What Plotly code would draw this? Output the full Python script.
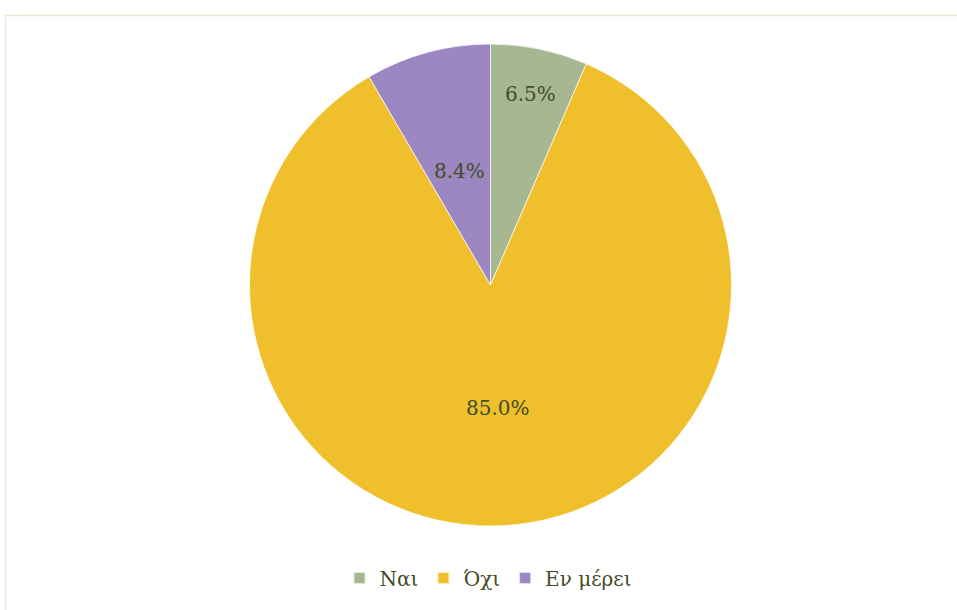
import math
import plotly.graph_objects as go

labels = ["Ναι", "Όχι", "Εν μέρει"]
values = [6.5, 85.0, 8.4]
colors = ["#a6b791", "#efbf2c", "#9d87c3"]
# radial placement of each percentage label, as a fraction of the radius (style)
label_radius = [0.81, 0.51, 0.49]

W, H = 957, 610
cx, cy, r = 490.5, 285, 241

dom_x = [(cx - r) / W, (cx + r) / W]
dom_y = [(H - cy - r) / H, (H - cy + r) / H]

fig = go.Figure(go.Pie(
    labels=labels,
    values=values,
    sort=False,
    direction="clockwise",
    rotation=0,
    marker=dict(colors=colors, line=dict(color="rgba(255,255,255,0.7)", width=1)),
    textinfo="none",
    domain=dict(x=dom_x, y=dom_y),
    hoverinfo="none",
))

# percentage labels placed at the angular middle of each slice
total = sum(values)
annotations = []
cum = 0.0
for v, fr in zip(values, label_radius):
    mid = (cum + v / 2) / total * 2 * math.pi
    cum += v
    px = cx + fr * r * math.sin(mid)
    py = cy - fr * r * math.cos(mid)
    annotations.append(dict(
        x=px / W, y=(H - py) / H, xref="paper", yref="paper",
        text=f"{v:.1f}%", showarrow=False,
        font=dict(family="DejaVu Serif", size=20, color="#434d26"),
        xanchor="center", yanchor="middle",
    ))

fig.update_layout(
    width=W, height=H,
    margin=dict(l=0, r=0, t=0, b=0),
    paper_bgcolor="white",
    plot_bgcolor="white",
    showlegend=True,
    annotations=annotations,
    legend=dict(
        orientation="h",
        x=0.51, xanchor="center",
        y=(H - 578) / H, yanchor="middle",
        font=dict(family="DejaVu Serif", size=20, color="#434d26"),
        itemsizing="constant",
        traceorder="normal",
    ),
    shapes=[dict(
        type="rect", xref="paper", yref="paper",
        x0=5.5 / W, x1=1.05, y0=-0.05, y1=(H - 15.5) / H,
        line=dict(color="#e6e9d4", width=1.5),
        fillcolor="rgba(0,0,0,0)",
        layer="below",
    )],
)

fig.write_html(
    "out.html",
    config={"displayModeBar": False},
    post_script="document.body.style.margin='0';document.body.style.overflow='hidden';",
)
